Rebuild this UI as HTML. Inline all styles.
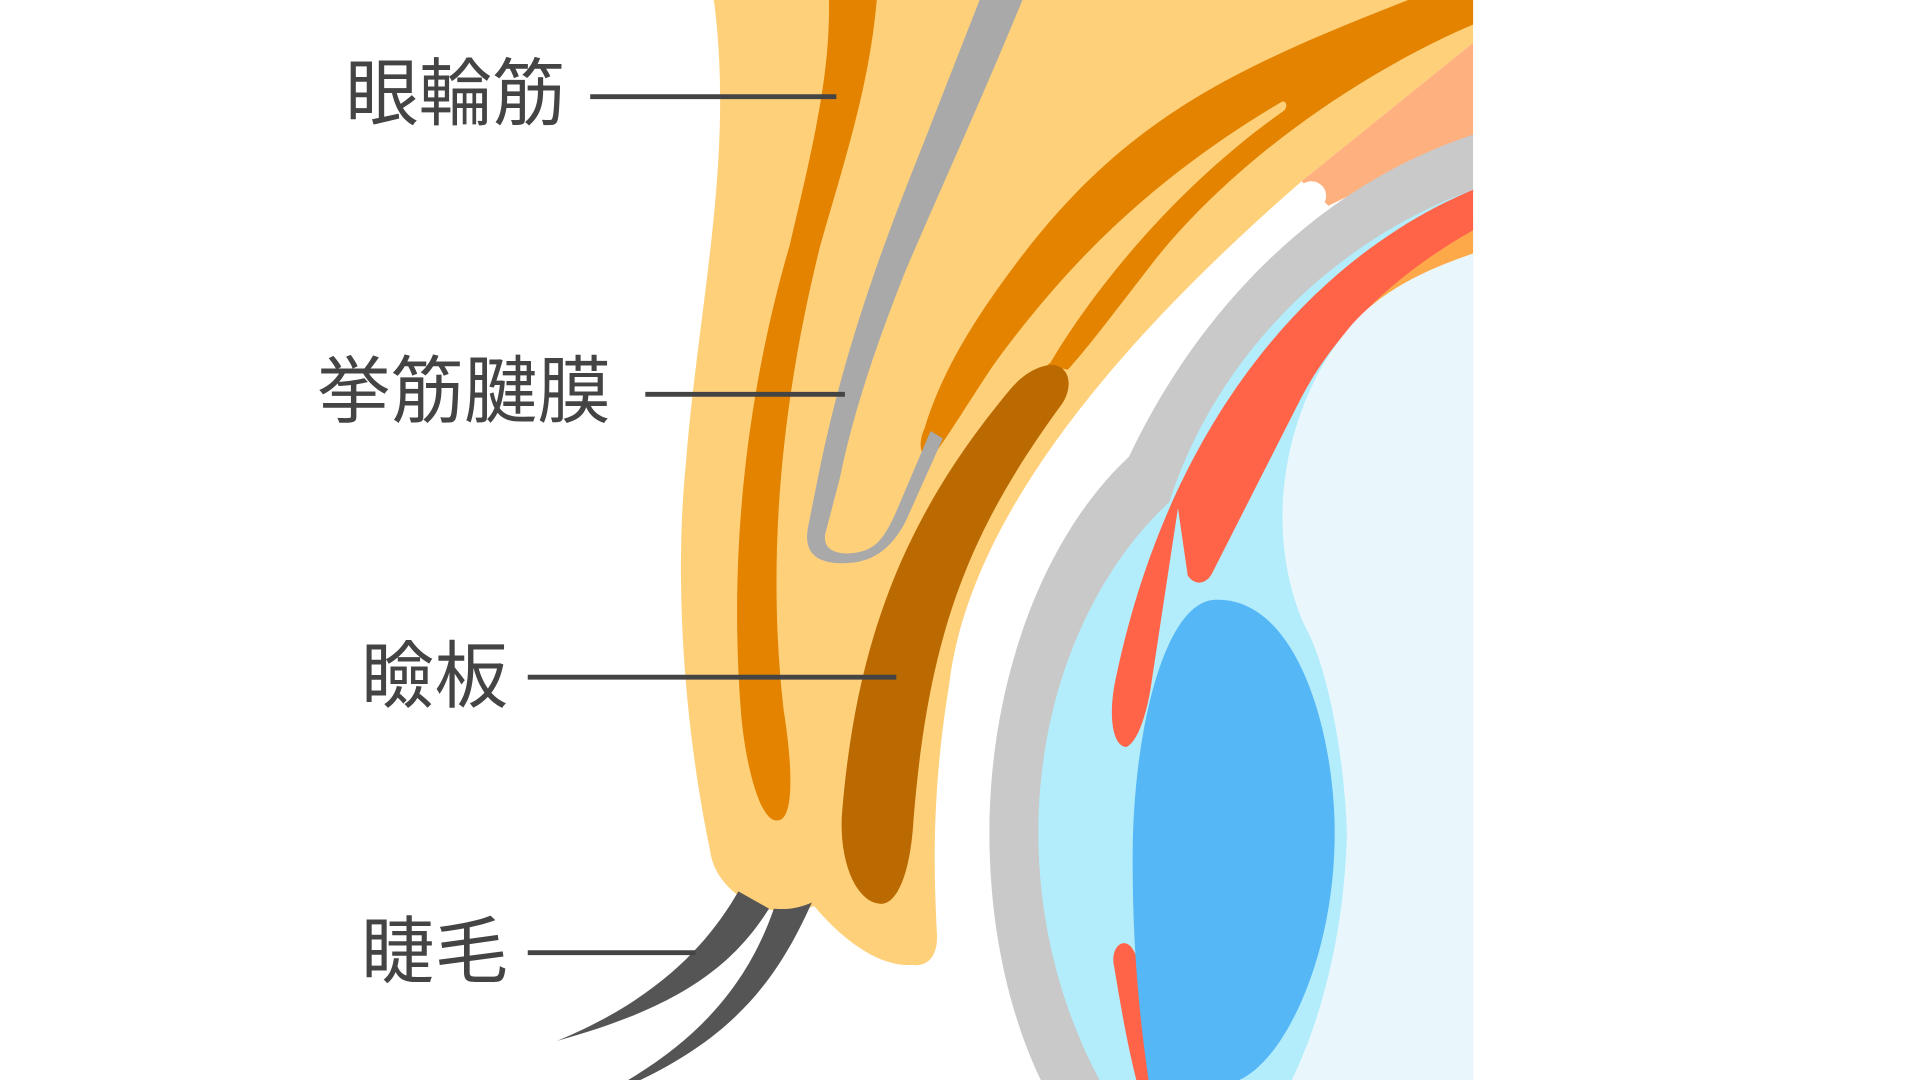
<!DOCTYPE html>
<html><head><meta charset="utf-8"><style>html,body{margin:0;padding:0;background:#fff;width:1920px;height:1080px;overflow:hidden}svg{display:block}</style></head>
<body>
<svg width="1920" height="1080" viewBox="0 0 1568 882" xmlns="http://www.w3.org/2000/svg">
<rect width="1568" height="882" fill="#fff"/>
<!-- skin -->
<path fill="#FED07A" d="M583,0 L1203,0 L1203,35 L1063,148 C 900,290 790,430 775,560 C 762,640 762,700 765,760 C 767,780 758,790 745,788 C 720,790 690,770 665,740 C 650,745 630,745 618,740 C 595,730 582,712 580,695 C 560,600 550,480 560,380 C 570,250 600,130 583,0 Z"/>
<path fill="#FEB07F" d="M1063,148 L1203,35 L1203,110 L1085,168 Z"/>
<circle cx="1071" cy="160" r="12" fill="#fff"/>
<!-- eyeball -->
<path fill="#C9C9C9" d="M1203,110 C 1080,150 980,250 922,373 C 850,440 808,560 808,680 C 808,760 825,830 850,882 L1203,882 Z"/>
<path fill="#B3EDFC" d="M1203,155 C 1080,200 990,300 955,410 C 890,470 848,570 848,680 C 848,760 870,830 898,882 L1203,882 Z"/>
<path fill="#FDA94A" d="M1203,180 L1203,207 C 1160,225 1125,245 1100,270 C 1120,235 1160,205 1203,180 Z"/>
<path fill="#FF6449" d="M1203,155 C 1060,215 950,360 910,560 C 905,590 910,610 920,610 C 930,605 937,580 940,560 L962,415 L970,470 C 975,478 985,478 990,468 L1060,330 C 1080,290 1120,235 1203,188 Z"/>
<path fill="#E9F7FD" d="M1203,207 C 1150,225 1120,245 1100,270 C 1050,330 1030,430 1065,510 C 1085,545 1098,620 1100,680 C 1098,760 1080,830 1055,882 L1203,882 Z"/>
<path fill="#FF6449" d="M910,790 C 905,770 925,758 930,790 L947,882 L928,882 C 920,850 915,820 910,790 Z"/>
<path fill="#55B7F5" d="M990,490 C 1060,485 1090,600 1090,680 C 1090,780 1050,865 1012,882 L938,882 C 926,800 925,740 925,700 C 925,600 950,495 990,490 Z"/>
<!-- orbicularis -->
<path fill="#E38300" d="M677,0 L716,0 C 710,70 690,130 670,200 C 640,320 625,450 640,580 C 648,630 648,670 635,670 C 620,672 608,620 605,580 C 595,450 610,320 645,200 C 665,115 678,60 677,0 Z"/>
<path fill="#E38300" d="M1150,0 L1203,0 L1203,20 C 1130,50 1080,72 1045,86 C 930,155 860,230 810,300 C 790,330 772,360 762,372 C 750,376 750,360 755,350 C 770,300 800,255 830,215 C 920,95 1010,55 1150,0 Z"/>
<path fill="#E38300" d="M1203,0 L1203,20 C 1110,60 1010,130 945,210 C 910,255 890,282 872,302 L855,298 C 880,250 910,210 940,175 C 980,125 1020,95 1045,80 Z"/>
<path fill="#FED07A" d="M1047,83 C 930,152 862,228 812,298 C 792,328 778,352 768,366 C 790,345 830,318 858,296 C 885,250 950,160 1049,90 C 1052,86 1050,82 1047,83 Z"/>
<!-- levator -->
<path fill="#A9A9A9" d="M800,0 L835,0 C 800,85 770,150 740,220 C 712,290 695,345 686,390 L675,432 C 670,447 680,452 692,452 C 712,451 720,444 731,420 L760,352 L770,358 L740,425 C 725,455 705,460 688,460 C 665,460 656,450 660,430 L668,390 C 690,280 725,190 755,115 Z"/>
<!-- tarsus -->
<path fill="#BA6A00" d="M860,298 C 876,300 876,320 865,333 C 790,436 758,520 746,670 C 743,720 730,740 718,738 C 698,736 684,700 688,660 C 700,520 740,420 825,318 C 835,306 848,298 860,298 Z"/>
<!-- lashes -->
<path fill="#555" d="M603,728 C 580,768 540,815 455,850 C 545,825 595,795 628,742 Z"/>
<path fill="#555" d="M632,742 C 612,800 575,845 513,882 L523,882 C 600,845 635,800 663,737 C 652,742 642,743 632,742 Z"/>
<!-- leader lines -->
<g stroke="#444" stroke-width="4">
<line x1="482" y1="79" x2="683" y2="79"/>
<line x1="527" y1="322" x2="690" y2="322"/>
<line x1="431" y1="553" x2="732" y2="553"/>
<line x1="431" y1="778" x2="568" y2="778"/>
</g>
<g fill="#444" font-family="'Liberation Sans','Noto Sans CJK JP',sans-serif" font-size="60">
<text x="282" y="97">眼輪筋</text>
<text x="259" y="340">挙筋腱膜</text>
<text x="295" y="573">瞼板</text>
<text x="295" y="798">睫毛</text>
</g>
</svg>
</body></html>
